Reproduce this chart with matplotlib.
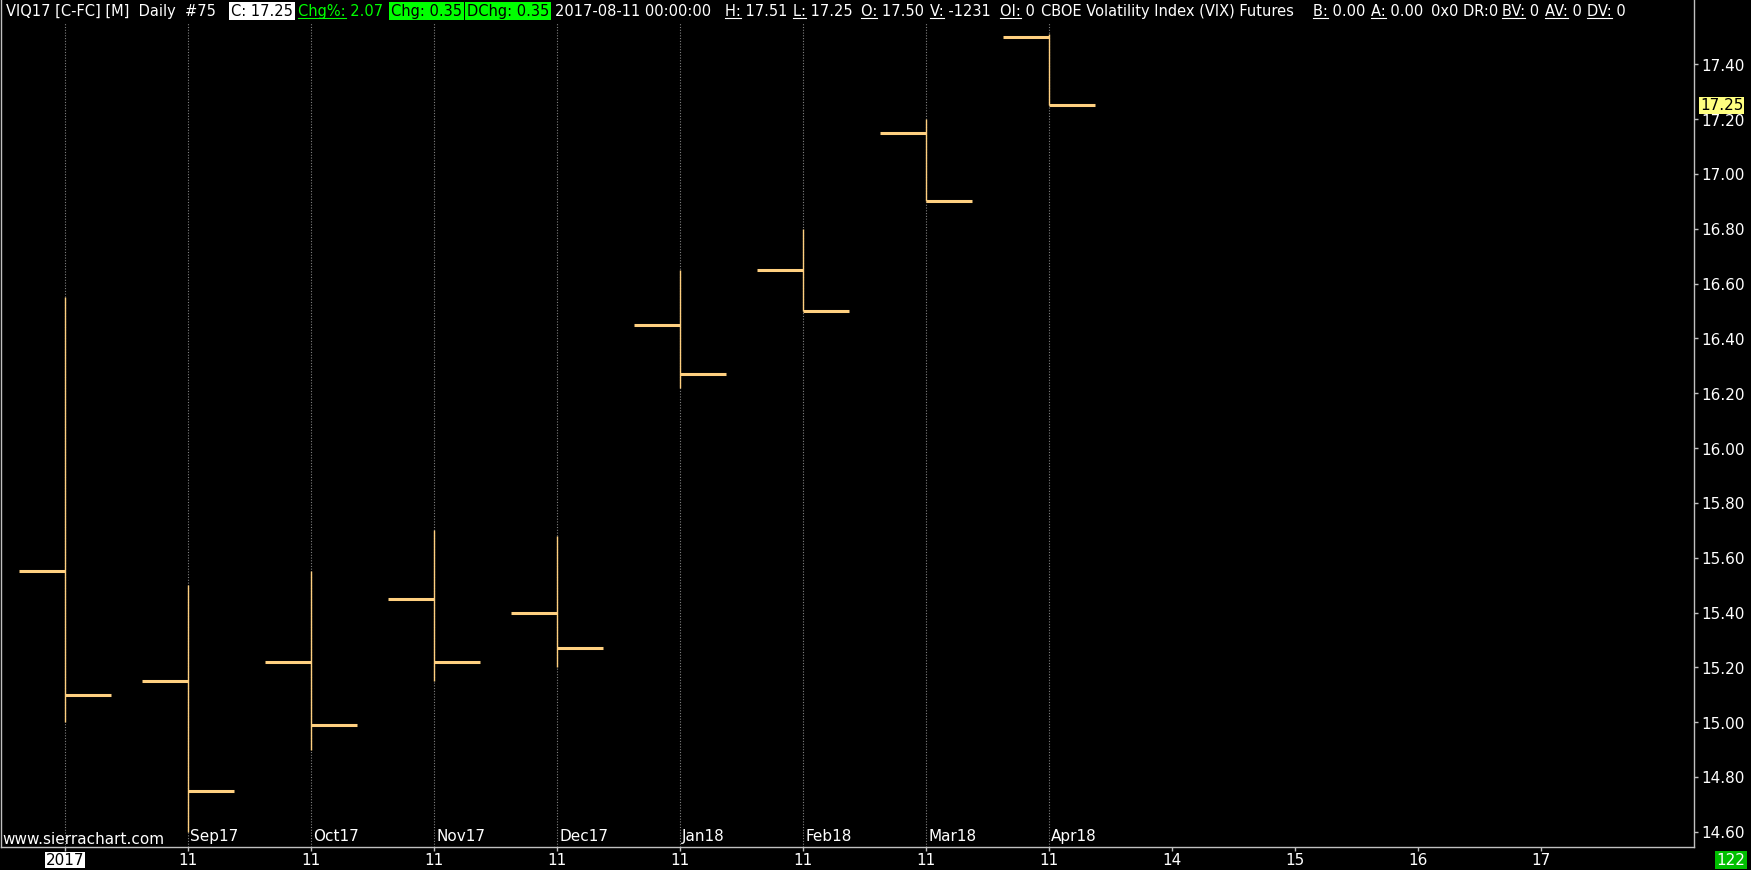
import numpy as np
import matplotlib
matplotlib.use("Agg")
import matplotlib.pyplot as plt
from matplotlib.lines import Line2D

# OHLC values, one bar per contract month
opens = [15.55, 15.15, 15.22, 15.45, 15.40, 16.45, 16.65, 17.15, 17.50]
highs = [16.55, 15.50, 15.55, 15.70, 15.68, 16.65, 16.80, 17.20, 17.51]
lows = [15.00, 14.60, 14.90, 15.15, 15.20, 16.22, 16.50, 16.90, 17.25]
closes = [15.10, 14.75, 14.99, 15.22, 15.27, 16.27, 16.50, 16.90, 17.25]
months = ["", "Sep17", "Oct17", "Nov17", "Dec17", "Jan18", "Feb18", "Mar18", "Apr18"]
xlabels = ["2017", "11", "11", "11", "11", "11", "11", "11", "11", "14", "15", "16", "17"]
yticks = [14.60, 14.80, 15.00, 15.20, 15.40, 15.60, 15.80, 16.00,
          16.20, 16.40, 16.60, 16.80, 17.00, 17.20, 17.40]
last_price = 17.25
bar_count = "122"

# header pieces: (label, value, x position in px, text colour, box colour, underline label)
header = [
    ("VIQ17 [C-FC] [M]  Daily  #75", "", 6, "white", None, False),
    ("C:", " 17.25", 231, "black", "white", True),
    ("Chg%:", " 2.07", 298, "#00ff00", None, True),
    ("Chg:", " 0.35", 391, "black", "#00ff00", True),
    ("DChg:", " 0.35", 467, "black", "#00ff00", True),
    ("2017-08-11 00:00:00", "", 555, "white", None, False),
    ("H:", " 17.51", 725, "white", None, True),
    ("L:", " 17.25", 793, "white", None, True),
    ("O:", " 17.50", 861, "white", None, True),
    ("V:", " -1231", 930, "white", None, True),
    ("OI:", " 0", 1000, "white", None, True),
    ("CBOE Volatility Index (VIX) Futures", "", 1041, "white", None, False),
    ("B:", " 0.00", 1313, "white", None, True),
    ("A:", " 0.00", 1371, "white", None, True),
    ("0x0 DR:0", "", 1431, "white", None, False),
    ("BV:", " 0", 1502, "white", None, True),
    ("AV:", " 0", 1545, "white", None, True),
    ("DV:", " 0", 1587, "white", None, True),
]

W, H = 1751, 870
bar_color = "#ffd080"
grid_color = "#808080"
axis_color = "#c0c0c0"
fs = 11
hfs = 10.5

fig = plt.figure(figsize=(W / 100, H / 100 + 0.004), dpi=100, facecolor="black")
ax = fig.add_axes([1 / W, 23 / H, 1693 / W, 847 / H])
ax.set_facecolor("black")
ax.set_xlim(-0.52, 13.24)
ax.set_ylim(14.545, 17.636)

x = np.arange(len(opens))

# dotted month lines, stopping under the header
for xi in x:
    ax.axvline(xi, ymin=0, ymax=1 - 22 / 847, color=grid_color, lw=0.8,
               linestyle=(0, (1, 1.5)), zorder=0)

# OHLC bars
ax.vlines(x, lows, highs, color=bar_color, lw=1.0, zorder=2)
ax.hlines(opens, x - 0.375, x, color=bar_color, lw=2.2, zorder=2)
ax.hlines(closes, x, x + 0.375, color=bar_color, lw=2.2, zorder=2)

# spines
ax.spines["top"].set_visible(False)
for s in ["left", "right", "bottom"]:
    ax.spines[s].set_color(axis_color)
    ax.spines[s].set_linewidth(1)

ax.yaxis.tick_right()
ax.set_yticks(yticks)
ax.set_yticklabels([f"{v:.2f}" for v in yticks])
ax.tick_params(axis="y", right=True, left=False, labelright=True, labelleft=False,
               length=3, width=1, pad=2, color=axis_color, labelcolor="white", labelsize=fs)

ax.set_xticks(range(len(xlabels)))
ax.set_xticklabels(xlabels)
ax.tick_params(axis="x", length=3, width=1, pad=1, color=axis_color,
               labelcolor="white", labelsize=fs)
first = ax.get_xticklabels()[0]
first.set_color("black")
first.set_bbox(dict(boxstyle="square,pad=0.05", fc="white", ec="none"))

# month names next to the lines
for xi, m in zip(x, months):
    if m:
        ax.annotate(m, xy=(xi, 0), xycoords=("data", "axes fraction"),
                    xytext=(2, 11), textcoords="offset pixels",
                    va="center", ha="left", color="white", fontsize=fs)

fig.text(2 / W, 1 - 839 / H, "www.sierrachart.com", color="white", fontsize=fs,
         va="center", ha="left")

# last price marker on the price scale
ax.annotate(f"{last_price:.2f}", xy=(1, last_price), xycoords=("axes fraction", "data"),
            xytext=(6, 0), textcoords="offset pixels", va="center", ha="left",
            color="black", fontsize=fs, zorder=5, annotation_clip=False,
            bbox=dict(boxstyle="square,pad=0.05", fc="#ffff80", ec="none"))

fig.text(1731 / W, 1 - 860 / H, bar_count, color="white", fontsize=fs,
         va="center", ha="center",
         bbox=dict(boxstyle="square,pad=0.1", fc="#00c000", ec="none"))

# header line with underlined field names
fig.canvas.draw()
renderer = fig.canvas.get_renderer()
base_y = 1 - 16 / H
for label, value, xpx, fg, bg, ul in header:
    kw = dict(color=fg, fontsize=hfs, va="baseline", ha="left")
    if bg:
        kw["bbox"] = dict(boxstyle="square,pad=0.12", fc=bg, ec="none")
    fig.text(xpx / W, base_y, label + value, **kw)
    if ul:
        probe = fig.text(xpx / W, base_y, label, fontsize=hfs, va="baseline", ha="left")
        bb = probe.get_window_extent(renderer)
        probe.remove()
        uy = base_y - 2 / H
        fig.add_artist(Line2D([bb.x0 / W, bb.x1 / W], [uy, uy], color=fg, lw=0.8,
                              transform=fig.transFigure))

fig.savefig("out.png", dpi=100, facecolor="black")
